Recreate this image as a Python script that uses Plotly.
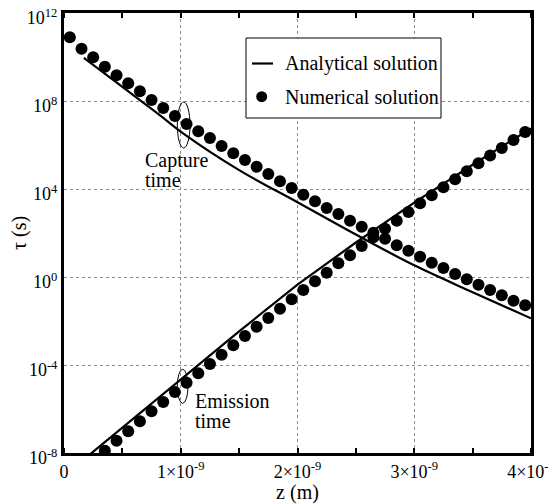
import plotly.graph_objects as go

# ---- data (z in metres, tau in seconds) ----
z_capture_num = [0.05e-9, 0.15e-9, 0.25e-9, 0.35e-9, 0.45e-9, 0.55e-9, 0.65e-9, 0.75e-9,
                 0.85e-9, 0.95e-9, 1.05e-9, 1.15e-9, 1.25e-9, 1.35e-9, 1.45e-9, 1.55e-9,
                 1.65e-9, 1.75e-9, 1.85e-9, 1.95e-9, 2.05e-9, 2.15e-9, 2.25e-9, 2.35e-9,
                 2.45e-9, 2.55e-9, 2.65e-9, 2.75e-9, 2.85e-9, 2.95e-9, 3.05e-9, 3.15e-9,
                 3.25e-9, 3.35e-9, 3.45e-9, 3.55e-9, 3.65e-9, 3.75e-9, 3.85e-9, 3.95e-9]
tau_capture_num = [7.85e10, 2.38e10, 9.70e9, 3.62e9, 1.47e9, 6.38e8, 2.76e8, 1.11e8,
                   4.81e7, 2.08e7, 9.02e6, 4.20e6, 2.08e6, 9.02e5, 4.20e5, 2.08e5,
                   1.03e5, 4.81e4, 2.24e4, 1.11e4, 5.51e3, 2.76e3, 1.37e3, 731,
                   362, 193, 103, 55.1, 27.6, 15.7, 8.37, 4.47,
                   2.56, 1.37, 0.785, 0.447, 0.256, 0.147, 0.0838, 0.0518]

z_emission_num = [0.35e-9, 0.45e-9, 0.55e-9, 0.65e-9, 0.75e-9, 0.85e-9, 0.95e-9, 1.05e-9,
                  1.15e-9, 1.25e-9, 1.35e-9, 1.45e-9, 1.55e-9, 1.65e-9, 1.75e-9, 1.85e-9,
                  1.95e-9, 2.05e-9, 2.15e-9, 2.25e-9, 2.35e-9, 2.45e-9, 2.55e-9, 2.65e-9,
                  2.75e-9, 2.85e-9, 2.95e-9, 3.05e-9, 3.15e-9, 3.25e-9, 3.35e-9, 3.45e-9,
                  3.55e-9, 3.65e-9, 3.75e-9, 3.85e-9, 3.95e-9]
tau_emission_num = [1.27e-8, 3.62e-8, 9.68e-8, 2.76e-7, 7.85e-7, 2.08e-6, 5.93e-6, 1.57e-5,
                    4.20e-5, 1.11e-4, 2.94e-4, 7.85e-4, 2.08e-3, 5.51e-3, 1.37e-2, 3.62e-2,
                    9.68e-2, 0.256, 0.638, 1.57, 4.20, 9.68, 25.6, 63.8,
                    157, 362, 902, 2.24e3, 5.18e3, 1.19e4, 2.76e4, 6.38e4,
                    1.47e5, 3.33e5, 7.31e5, 1.69e6, 3.90e6]

z_capture_an = [0.17e-9, 0.5e-9, 0.82e-9, 1.02e-9, 1.5e-9, 2.0e-9, 2.5e-9, 3.0e-9, 3.5e-9, 4.0e-9]
tau_capture_an = [9.02e9, 4.37e8, 2.29e7, 3.39e6, 7.24e4, 2.51e3, 85.1, 3.39, 0.204, 0.0132]

z_emission_an = [0.2e-9, 1.0e-9, 1.5e-9, 2.0e-9, 2.5e-9, 3.0e-9, 3.5e-9, 4.0e-9]
tau_emission_an = [6.92e-9, 2.19e-5, 3.39e-3, 0.45, 37.0, 2.40e3, 1.26e5, 5.62e6]

x_tickvals = [0, 1e-9, 2e-9, 3e-9, 4e-9]
x_ticktext = ["0", "1×10<sup>-9</sup>", "2×10<sup>-9</sup>", "3×10<sup>-9</sup>", "4×10<sup>-9</sup>"]
y_tickvals = [1e-8, 1e-4, 1e0, 1e4, 1e8, 1e12]
y_ticktext = ["10<sup>-8</sup>", "10<sup>-4</sup>", "10<sup>0</sup>", "10<sup>4</sup>",
              "10<sup>8</sup>", "10<sup>12</sup>"]

FONT = "Liberation Serif, Times New Roman, serif"

fig = go.Figure()
fig.add_trace(go.Scatter(x=z_capture_an, y=tau_capture_an, mode="lines",
                         line=dict(color="black", width=2.2, shape="spline"),
                         showlegend=False, hoverinfo="skip"))
fig.add_trace(go.Scatter(x=z_emission_an, y=tau_emission_an, mode="lines",
                         line=dict(color="black", width=2.2, shape="linear"),
                         showlegend=False, hoverinfo="skip"))
for zz, tt in [(z_capture_num, tau_capture_num), (z_emission_num, tau_emission_num)]:
    fig.add_trace(go.Scatter(x=zz, y=tt, mode="markers",
                             marker=dict(color="black", size=12, line=dict(width=0)),
                             showlegend=False, hoverinfo="skip"))

# page has an 8px body margin: figure occupies (8..556, 8..504)
W, H = 548, 496
L, R, T, B = 56, 25, 5, 51
# plot area in page pixels
PL, PB = 64, 453
pw, ph = 467, 440


def px(x):
    return (x - PL) / pw


def py(y):
    return (PB - y) / ph


shapes = [
    # legend box
    dict(type="rect", xref="paper", yref="paper", x0=px(246), x1=px(441), y0=py(118), y1=py(38),
         line=dict(color="black", width=1), fillcolor="white", layer="above"),
    dict(type="line", xref="paper", yref="paper", x0=px(252), x1=px(273), y0=py(63.5), y1=py(63.5),
         line=dict(color="black", width=2.2), layer="above"),
    dict(type="circle", xref="paper", yref="paper", x0=px(256.2), x1=px(267.2), y0=py(102.2), y1=py(91.2),
         line=dict(color="black", width=0), fillcolor="black", layer="above"),
    # ellipses
    dict(type="circle", xref="paper", yref="paper", x0=px(177.3), x1=px(190), y0=py(148), y1=py(102),
         line=dict(color="black", width=1), layer="above"),
    dict(type="circle", xref="paper", yref="paper", x0=px(177.3), x1=px(188), y0=py(403.3), y1=py(369.3),
         line=dict(color="black", width=1), layer="above"),
]

ann = []
for text, x, y in [("Analytical solution", 283, 63.5), ("Numerical solution", 283, 96.7),
                   ("Capture", 142.5, 160), ("time", 142.5, 179.5),
                   ("Emission", 192.5, 400.5), ("time", 192.5, 420.5)]:
    ann.append(dict(text=text, xref="paper", yref="paper", x=px(x), y=py(y),
                    xanchor="left", yanchor="middle", showarrow=False,
                    font=dict(family=FONT, size=20, color="black")))

fig.update_layout(
    width=W, height=H,
    margin=dict(l=L, r=R, t=T, b=B, autoexpand=False),
    paper_bgcolor="white", plot_bgcolor="white",
    font=dict(family=FONT, color="black"),
    shapes=shapes, annotations=ann, showlegend=False,
)
fig.update_xaxes(
    range=[0, 4e-9], tickvals=x_tickvals, ticktext=x_ticktext, automargin=False,
    tickfont=dict(family=FONT, size=18), ticks="", ticklabeloverflow="allow",
    showline=True, linecolor="black", linewidth=3, mirror="allticks",
    showgrid=True, gridcolor="#8c8c8c", gridwidth=1, griddash="dot", zeroline=False,
    minor=dict(dtick=0.5e-9, tick0=0, ticks="inside", ticklen=5, tickwidth=2,
               tickcolor="black", showgrid=False),
    title=dict(text="z (m)", font=dict(family=FONT, size=20), standoff=2),
)
fig.update_yaxes(
    type="log", range=[-8, 12], tickvals=y_tickvals, ticktext=y_ticktext, automargin=False,
    tickfont=dict(family=FONT, size=18), ticks="", ticklabeloverflow="allow",
    ticklabelshift=5,
    showline=True, linecolor="black", linewidth=3, mirror=True,
    showgrid=True, gridcolor="#8c8c8c", gridwidth=1, griddash="dot", zeroline=False,
    title=dict(text="τ (s)", font=dict(family=FONT, size=20), standoff=2),
)

fig.write_html("out.html")
